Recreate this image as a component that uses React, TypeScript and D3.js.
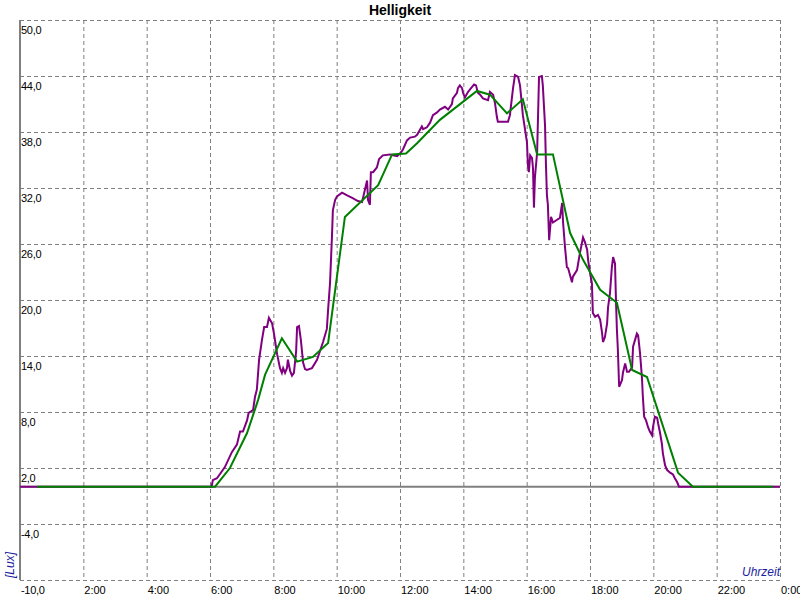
import React from "react";
import * as d3 from "d3";

const chartTitle = "Helligkeit";
const yUnitLabel = "[Lux]";
const xUnitLabel = "Uhrzeit";

const yTicks = [-10, -4, 2, 8, 14, 20, 26, 32, 38, 44, 50];
const xTickHours = [2, 4, 6, 8, 10, 12, 14, 16, 18, 20, 22, 24];
const xTickLabels = ["2:00", "4:00", "6:00", "8:00", "10:00", "12:00", "14:00", "16:00", "18:00", "20:00", "22:00", "0:00"];

// [hour, lux]
const measured: [number, number][] = [
  [0, 0], [6.05, 0], [6.09, 0.7], [6.22, 0.9], [6.47, 2.1], [6.69, 3.7], [6.85, 4.5], [6.95, 5.9], [7.04, 5.9],
  [7.17, 7.1], [7.22, 7.9], [7.36, 8.2], [7.42, 9.6], [7.48, 10.4], [7.55, 13.6], [7.64, 15.7], [7.71, 17.1],
  [7.8, 17.1], [7.86, 18.1], [7.96, 17.5], [8.02, 16.4], [8.12, 14.2], [8.21, 12.7], [8.27, 12.2], [8.31, 12.7],
  [8.37, 12.2], [8.43, 12.7], [8.46, 13.6], [8.53, 12.4], [8.59, 11.9], [8.65, 12.2], [8.72, 14.5], [8.75, 17.1],
  [8.81, 17.2], [8.87, 15.7], [8.94, 13.3], [9.0, 12.6], [9.06, 12.5], [9.22, 12.7], [9.38, 13.6], [9.57, 15.5],
  [9.69, 16.9], [9.73, 19.0], [9.79, 21.8], [9.85, 26.7], [9.88, 29.6], [9.95, 30.7], [10.01, 31.1], [10.17, 31.5],
  [10.33, 31.2], [10.52, 30.9], [10.67, 30.6], [10.8, 30.5], [10.83, 30.9], [10.96, 32.8], [10.99, 30.7],
  [11.05, 30.2], [11.08, 33.7], [11.15, 33.7], [11.27, 34.2], [11.34, 35.1], [11.46, 35.5], [11.68, 35.6],
  [11.78, 35.5], [11.91, 35.4], [12.0, 35.7], [12.09, 36.1], [12.22, 37.1], [12.32, 37.4], [12.47, 37.5],
  [12.54, 37.7], [12.69, 38.6], [12.73, 38.3], [12.85, 38.5], [12.95, 39.0], [13.04, 39.8], [13.17, 40.1],
  [13.26, 40.4], [13.42, 40.7], [13.52, 40.4], [13.64, 41.0], [13.67, 41.6], [13.8, 42.2], [13.83, 42.7],
  [13.89, 43.0], [13.96, 42.7], [13.99, 42.2], [14.05, 41.7], [14.15, 42.3], [14.27, 42.8], [14.34, 43.1],
  [14.4, 43.0], [14.46, 42.2], [14.53, 42.0], [14.62, 41.6], [14.78, 41.4], [14.84, 42.3], [14.94, 42.0],
  [15.0, 41.1], [15.06, 39.6], [15.09, 39.1], [15.41, 39.1], [15.47, 39.8], [15.57, 42.7], [15.63, 44.1],
  [15.73, 43.9], [15.79, 43.0], [15.85, 40.9], [15.88, 39.8], [16.01, 36.9], [16.04, 34.4], [16.07, 33.7],
  [16.11, 35.5], [16.17, 35.2], [16.2, 34.1], [16.23, 29.9], [16.26, 33.1], [16.33, 35.8], [16.36, 39.8],
  [16.39, 43.9], [16.48, 44.0], [16.51, 43.0], [16.58, 38.7], [16.61, 34.4], [16.64, 31.2], [16.67, 30.2],
  [16.71, 26.4], [16.77, 28.9], [16.83, 28.3], [16.96, 28.6], [17.05, 28.8], [17.12, 30.4], [17.15, 28.3],
  [17.21, 25.7], [17.27, 23.5], [17.31, 23.4], [17.43, 21.9], [17.46, 22.5], [17.59, 23.2], [17.68, 25.0],
  [17.78, 26.7], [17.84, 26.2], [17.91, 25.4], [17.94, 24.3], [18.0, 22.9], [18.06, 21.8], [18.09, 18.6],
  [18.16, 18.2], [18.25, 18.4], [18.32, 17.9], [18.38, 16.5], [18.41, 15.5], [18.47, 16.0], [18.54, 17.5],
  [18.57, 19.2], [18.63, 20.7], [18.69, 23.5], [18.73, 24.6], [18.79, 23.9], [18.82, 20.0], [18.85, 16.8],
  [18.88, 14.7], [18.92, 10.7], [19.01, 11.4], [19.04, 12.2], [19.11, 13.2], [19.17, 12.3], [19.23, 12.3],
  [19.33, 12.8], [19.36, 15.0], [19.42, 15.7], [19.48, 16.4], [19.52, 16.2], [19.58, 14.3], [19.64, 11.7],
  [19.67, 9.6], [19.71, 7.5], [19.77, 7.1], [19.83, 6.4], [19.89, 5.9], [19.96, 5.5], [19.99, 6.4], [20.05, 7.5],
  [20.12, 7.4], [20.15, 6.8], [20.21, 5.8], [20.27, 4.6], [20.3, 3.6], [20.37, 2.3], [20.43, 1.8], [20.53, 1.5],
  [20.62, 1.3], [20.68, 0.9], [20.75, 0.5], [20.81, 0], [24, 0],
];

// [hour, lux] smoothed
const smoothed: [number, number][] = [
  [0.54, 0], [6.16, 0], [6.63, 2.0], [7.17, 5.75], [7.52, 9.3], [7.74, 12.0], [8.27, 15.9], [8.75, 13.4],
  [9.25, 13.9], [9.73, 15.4], [10.26, 28.9], [11.31, 32.3], [11.75, 35.6], [12.19, 35.7], [12.54, 36.8],
  [13.26, 39.3], [14.43, 42.4], [14.84, 42.0], [15.38, 40.0], [15.88, 41.5], [16.33, 35.6], [16.83, 35.6],
  [17.37, 27.2], [17.78, 24.3], [18.32, 21.1], [18.85, 19.7], [19.33, 12.5], [19.8, 11.75], [20.78, 1.5],
  [21.25, 0], [23.78, 0],
];

const W = 800;
const H = 600;
const left = 20;
const right = 780;
const top = 20;
const bottom = 580;

const fmtY = (v: number) => v.toFixed(1).replace(".", ",");

export default function App() {
  const x = d3.scaleLinear().domain([0, 24]).range([left, right]);
  const y = d3.scaleLinear().domain([-10, 50]).range([bottom, top]);
  const line = d3
    .line<[number, number]>()
    .x((d) => x(d[0]))
    .y((d) => y(d[1]));

  const font = "'Liberation Sans', Arial, sans-serif";
  const grid = "#808080";

  return (
    <svg
      width={W}
      height={H}
      style={{ position: "absolute", left: 0, top: 0, background: "#fff", display: "block" }}
      fontFamily={font}
    >
      <rect x={0} y={0} width={W} height={H} fill="#fff" />
      <text x={400} y={15} textAnchor="middle" fontWeight="bold" fontSize={14} fill="#000">
        {chartTitle}
      </text>
      {/* horizontal grid */}
      {yTicks.map((t) => (
        <line
          key={"hy" + t}
          x1={left}
          x2={right}
          y1={y(t) + 0.5}
          y2={y(t) + 0.5}
          stroke={grid}
          strokeWidth={1}
          strokeDasharray="4,3"
        />
      ))}
      {/* vertical grid */}
      {xTickHours.map((h) => (
        <line
          key={"vx" + h}
          x1={x(h) + 0.5}
          x2={x(h) + 0.5}
          y1={top}
          y2={bottom}
          stroke={grid}
          strokeWidth={1}
          strokeDasharray="4,3"
        />
      ))}
      {/* left axis */}
      <line x1={left} x2={left} y1={top} y2={bottom} stroke={grid} strokeWidth={2} />
      {/* zero line */}
      <line x1={left} x2={right} y1={y(0)} y2={y(0)} stroke={grid} strokeWidth={2} />
      {/* y labels */}
      {yTicks.map((t) => (
        <text key={"ly" + t} x={left + 1} y={y(t) + 13.5} fontSize={11} fill="#000" letterSpacing={-0.3}>
          {fmtY(t)}
        </text>
      ))}
      {/* x labels */}
      {xTickHours.map((h, i) => (
        <text key={"lx" + h} x={x(h) + 1} y={594} fontSize={11} fill="#000">
          {xTickLabels[i]}
        </text>
      ))}
      <text
        transform={`translate(14, ${bottom - 2}) rotate(-90)`}
        fontSize={12}
        fontStyle="italic"
        fill="#1c1ca0"
      >
        {yUnitLabel}
      </text>
      <text x={right} y={576} textAnchor="end" fontSize={12} fontStyle="italic" fill="#1c1ca0">
        {xUnitLabel}
      </text>
      <path d={line(measured) || ""} fill="none" stroke="#800080" strokeWidth={2} />
      <path d={line(smoothed) || ""} fill="none" stroke="#008000" strokeWidth={2} />
    </svg>
  );
}
